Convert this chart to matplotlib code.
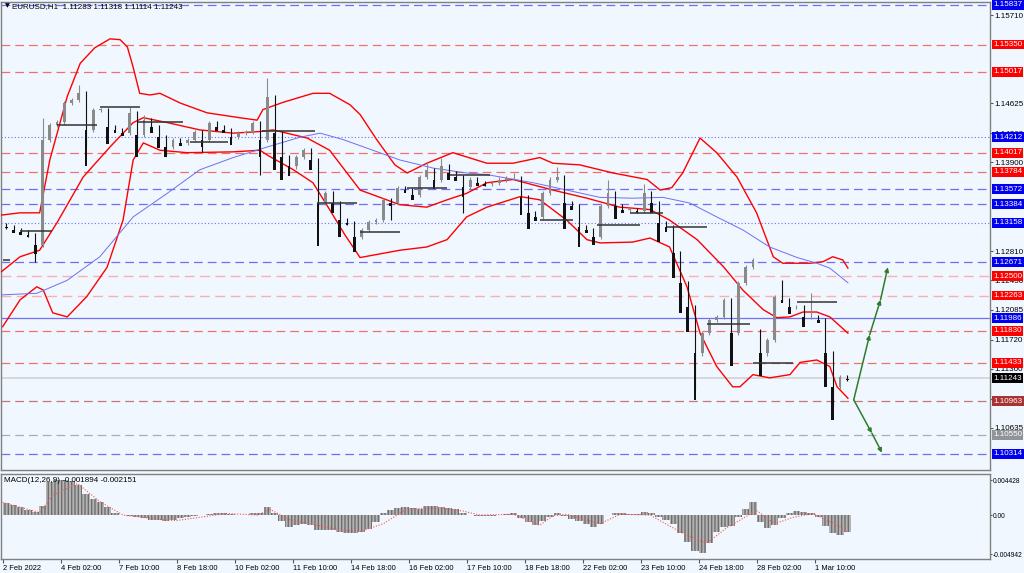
# График EURUSD H1: свечи, полосы Боллинджера, уровни и MACD

import matplotlib.pyplot as plt
from matplotlib.transforms import blended_transform_factory

# Цены закрытия свечей (одна свеча ~ 4 часа)
closes = [1.1311, 1.1307, 1.1304, 1.1301, 1.1289, 1.1418, 1.1436, 1.1440, 1.1463, 1.1467,
          1.1475, 1.1430, 1.1455, 1.1455, 1.1434, 1.1430, 1.1426, 1.1451, 1.1424, 1.1442,
          1.1434, 1.1421, 1.1409, 1.1418, 1.1414, 1.1418, 1.1427, 1.1418, 1.1439, 1.1434,
          1.1430, 1.1421, 1.1426, 1.1427, 1.1439, 1.1418, 1.1471, 1.1426, 1.1397, 1.1385,
          1.1397, 1.1405, 1.1393, 1.1340, 1.1352, 1.1340, 1.1319, 1.1316, 1.1298, 1.1307,
          1.1317, 1.1319, 1.1344, 1.1340, 1.1359, 1.1356, 1.1350, 1.1372, 1.1381, 1.1369,
          1.1385, 1.1377, 1.1372, 1.1360, 1.1369, 1.1365, 1.1363, 1.1365, 1.1369, 1.1371,
          1.1371, 1.1348, 1.1328, 1.1323, 1.1352, 1.1369, 1.1372, 1.1340, 1.1336, 1.1311,
          1.1307, 1.1298, 1.1336, 1.1352, 1.1336, 1.1332, 1.1332, 1.1330, 1.1352, 1.1340,
          1.1316, 1.1310, 1.1279, 1.1242, 1.1212, 1.1155, 1.1180, 1.1196, 1.1200, 1.1221,
          1.1180, 1.1242, 1.1261, 1.1270, 1.1155, 1.1172, 1.1225, 1.1221, 1.1212, 1.1212,
          1.1200, 1.1200, 1.1196, 1.1155, 1.1114, 1.1126, 1.1124]
first_open = 1.1313
gap_opens = {5: 1.1289, 104: 1.1183}

# Длинные тени (индекс свечи: цена)
spike_highs = {5: 1.1445, 10: 1.1485, 17: 1.1458, 19: 1.1448, 36: 1.1494, 58: 1.1390,
               60: 1.1396, 70: 1.1377, 76: 1.1384, 83: 1.1369, 88: 1.1363, 103: 1.1273,
               107: 1.1245, 111: 1.1230}
spike_lows = {4: 1.1268, 11: 1.1412, 22: 1.1399, 27: 1.1403, 35: 1.1375, 39: 1.1375,
              43: 1.1332, 48: 1.1282, 53: 1.1319, 63: 1.1328, 81: 1.1290, 93: 1.1209,
              95: 1.1110, 100: 1.1165, 104: 1.1147, 114: 1.1089}

# Полосы Боллинджера и скользящая средняя: (индекс, цена)
bb_upper = [(-0.9, 1.1325), (1.9, 1.1328), (4.6, 1.1328), (6.0, 1.1393), (8.4, 1.1471),
            (10.2, 1.1512), (12.2, 1.1531), (14.3, 1.1542), (15.7, 1.1541), (16.7, 1.1532),
            (17.5, 1.1507), (18.4, 1.1475), (19.8, 1.1473), (21.2, 1.1475), (24.0, 1.1463),
            (27.7, 1.1451), (32.2, 1.1445), (34.6, 1.1442), (35.4, 1.1455), (38.2, 1.1464),
            (42.3, 1.1475), (44.6, 1.1475), (47.4, 1.1461), (48.8, 1.1449), (51.1, 1.1418),
            (53.6, 1.1387), (55.3, 1.1377), (58.0, 1.1389), (61.6, 1.1402), (66.3, 1.1389),
            (69.9, 1.1389), (73.6, 1.1396), (75.4, 1.1389), (79.1, 1.1387), (83.7, 1.1377),
            (88.4, 1.1369), (90.2, 1.1356), (91.8, 1.1359), (93.3, 1.1377), (95.7, 1.1420),
            (98.0, 1.1402), (100.8, 1.1372), (103.5, 1.1328), (105.8, 1.1274), (107.1, 1.1266),
            (110.9, 1.1266), (112.7, 1.1268), (114.0, 1.1274), (115.4, 1.1270), (116.1, 1.1260)]
bb_middle = [(-0.9, 1.1254), (1.9, 1.1274), (4.6, 1.1282), (7.0, 1.1316), (10.6, 1.1372),
             (14.3, 1.1409), (17.5, 1.1439), (18.9, 1.1445), (22.2, 1.1439), (26.7, 1.1430),
             (31.3, 1.1426), (35.0, 1.1428), (36.8, 1.1430), (41.5, 1.1420), (44.6, 1.1405),
             (48.8, 1.1356), (54.3, 1.1338), (58.0, 1.1335), (60.8, 1.1344), (63.5, 1.1352),
             (66.3, 1.1365), (69.9, 1.1369), (75.4, 1.1356), (80.1, 1.1346), (84.6, 1.1335),
             (88.8, 1.1332), (91.5, 1.1319), (95.3, 1.1295), (98.9, 1.1262), (101.6, 1.1233),
             (104.4, 1.1209), (106.3, 1.1199), (108.1, 1.1200), (109.9, 1.1206), (111.8, 1.1206),
             (113.6, 1.1200), (116.1, 1.1180)]
bb_lower = [(-0.5, 1.1188), (1.9, 1.1221), (4.2, 1.1237), (5.1, 1.1233), (6.4, 1.1205),
            (8.4, 1.1200), (11.1, 1.1225), (13.9, 1.1261), (16.1, 1.1319), (17.5, 1.1393),
            (18.9, 1.1414), (21.2, 1.1405), (24.9, 1.1402), (31.3, 1.1403), (35.0, 1.1405),
            (36.0, 1.1399), (39.6, 1.1381), (42.3, 1.1365), (44.6, 1.1332), (46.7, 1.1301),
            (48.8, 1.1273), (54.3, 1.1282), (58.0, 1.1286), (60.8, 1.1295), (63.5, 1.1323),
            (66.3, 1.1335), (70.9, 1.1348), (73.6, 1.1344), (77.3, 1.1319), (80.1, 1.1295),
            (81.9, 1.1291), (86.4, 1.1292), (88.8, 1.1297), (91.5, 1.1286), (93.9, 1.1237),
            (95.7, 1.1180), (98.0, 1.1139), (100.2, 1.1114), (101.2, 1.1114), (103.0, 1.1129),
            (105.3, 1.1125), (108.1, 1.1129), (109.5, 1.1144), (111.8, 1.1147), (113.6, 1.1139),
            (114.6, 1.1114), (116.1, 1.1100)]
ma_blue = [(-0.9, 1.1227), (4.2, 1.1229), (8.4, 1.1245), (12.9, 1.1274), (17.5, 1.1323),
           (22.2, 1.1352), (26.7, 1.1381), (31.3, 1.1396), (36.0, 1.1409), (40.5, 1.1421),
           (43.3, 1.1426), (46.5, 1.1418), (54.3, 1.1393), (58.9, 1.1383), (63.5, 1.1377),
           (66.3, 1.1375), (72.7, 1.1365), (77.3, 1.1356), (81.9, 1.1347), (86.4, 1.1346),
           (90.6, 1.1347), (94.3, 1.1340), (98.0, 1.1323), (101.6, 1.1307), (105.3, 1.1286),
           (109.1, 1.1273), (111.8, 1.1266), (113.6, 1.1260), (116.1, 1.1242)]

# MACD: гистограмма по свечам и сигнальная линия
macd_hist = [0.0015, 0.0013, 0.0010, 0.0007, 0.0004, 0.0012, 0.0042, 0.0044, 0.0044, 0.0043,
             0.0038, 0.0026, 0.0020, 0.0017, 0.0010, 0.0003, 0.0000, -0.0001, -0.0002, -0.0004,
             -0.0006, -0.0006, -0.0008, -0.0006, -0.0004, -0.0003, -0.0001, 0.0000, 0.0001, 0.0003,
             0.0003, 0.0001, 0.0000, 0.0000, 0.0002, 0.0003, 0.0010, 0.0002, -0.0007, -0.0015,
             -0.0013, -0.0011, -0.0012, -0.0019, -0.0019, -0.0019, -0.0021, -0.0023, -0.0023, -0.0022,
             -0.0018, -0.0009, 0.0002, 0.0007, 0.0009, 0.0010, 0.0009, 0.0008, 0.0011, 0.0012,
             0.0010, 0.0009, 0.0008, 0.0002, 0.0000, -0.0001, -0.0001, -0.0001, 0.0000, 0.0001,
             0.0002, -0.0004, -0.0009, -0.0012, -0.0008, -0.0002, 0.0002, -0.0001, -0.0005, -0.0008,
             -0.0011, -0.0015, -0.0011, 0.0000, 0.0002, 0.0002, 0.0001, 0.0001, 0.0004, 0.0002,
             -0.0003, -0.0006, -0.0011, -0.0023, -0.0034, -0.0046, -0.0048, -0.0036, -0.0021, -0.0015,
             -0.0014, -0.0003, 0.0008, 0.0016, -0.0009, -0.0017, -0.0012, -0.0004, 0.0002, 0.0005,
             0.0004, 0.0002, -0.0002, -0.0014, -0.0023, -0.0025, -0.0022]
macd_signal = [(-0.9, 0.0017), (4.6, 0.0003), (6.4, 0.0025), (9.8, 0.0040), (12.9, 0.0017),
               (16.1, 0.0000), (21.6, -0.0006), (23.5, -0.0007), (30.4, 0.0002), (34.6, 0.0000),
               (36.4, 0.0007), (39.1, -0.0006), (42.9, -0.0013), (46.0, -0.0019), (48.8, -0.0021),
               (52.0, -0.0011), (55.3, 0.0008), (59.8, 0.0009), (63.0, 0.0005), (65.3, 0.0000),
               (69.9, 0.0001), (73.6, -0.0013), (75.4, -0.0001), (77.3, 0.0001), (81.9, -0.0011),
               (84.7, 0.0001), (88.8, 0.0000), (92.9, -0.0021), (96.6, -0.0036), (99.4, -0.0016),
               (102.6, 0.0001), (103.6, 0.0005), (106.0, -0.0011), (108.5, -0.0003), (111.3, 0.0002),
               (115.0, -0.0015), (116.1, -0.0022)]

# Горизонтальные уровни и их тип
level_prices = [1.15837, 1.15350, 1.15017, 1.14212, 1.14017, 1.13784, 1.13572, 1.13384,
                1.13158, 1.12671, 1.12500, 1.12263, 1.11986, 1.11830, 1.11433, 1.11243,
                1.10963, 1.10550, 1.10314]
level_kinds = ['blue', 'red', 'red', 'bdot', 'red', 'red', 'blue', 'blue',
               'bdot', 'blue', 'pink', 'pink', 'bsolid', 'red', 'red', 'cur',
               'brown', 'gray', 'blue']
# видимые подписи шкалы цен (остальные закрыты метками уровней)
axis_ticks = [1.15710, 1.14625, 1.14260, 1.13900, 1.12810, 1.12450, 1.12085,
              1.11720, 1.11360, 1.10995, 1.10635]

# Короткие отрезки (от, до, цена)
segments = [(-0.4, 0.5, 1.1270), (1.9, 6.3, 1.1306), (7.0, 12.5, 1.1436), (12.9, 18.4, 1.1458),
            (18.2, 24.4, 1.1440), (25.3, 30.6, 1.1415), (35.3, 42.6, 1.1429), (42.9, 48.4, 1.1340),
            (48.8, 54.3, 1.1305), (55.3, 60.8, 1.1359), (61.2, 66.7, 1.1375), (73.6, 78.2, 1.1319),
            (81.5, 87.4, 1.1313), (86.0, 90.6, 1.1328), (91.1, 96.6, 1.1311), (96.6, 102.6, 1.1191),
            (103.0, 108.5, 1.1143), (109.1, 114.6, 1.1218)]

# Стрелки прогноза
arrow_up = [(116.9, 1.1098), (119.1, 1.1178), (120.6, 1.1221), (121.6, 1.1261)]
arrow_down = [(116.9, 1.1098), (119.4, 1.1057), (120.8, 1.1033)]

# Подписи оси времени
date_labels = ['2 Feb 2022', '4 Feb 02:00', '7 Feb 10:00', '8 Feb 18:00', '10 Feb 02:00',
               '11 Feb 10:00', '14 Feb 18:00', '16 Feb 02:00', '17 Feb 10:00', '18 Feb 18:00',
               '22 Feb 02:00', '23 Feb 10:00', '24 Feb 18:00', '28 Feb 02:00', '1 Mar 10:00']

BG = '#f0f7fe'
plt.rcParams['font.family'] = ['Liberation Sans', 'DejaVu Sans']

fig = plt.figure(figsize=(10.24, 5.73), dpi=100, facecolor=BG)
ax = fig.add_axes([0.001, 0.1798, 0.9658, 0.8168], facecolor=BG)
axm = fig.add_axes([0.001, 0.0244, 0.9658, 0.1483], facecolor=BG, sharex=ax)

# Уровни
styles = {
    'blue': ('#6f6ff6', (0, (7, 4)), 0.9, '#0000f0'),
    'red': ('#f07070', (0, (7, 4)), 0.9, '#ff0000'),
    'pink': ('#f8b0b0', (0, (7, 4)), 1.0, '#ff0000'),
    'bdot': ('#6f6ff6', (0, (1, 2)), 0.8, '#0000f0'),
    'bsolid': ('#6f6ff6', '-', 0.9, '#0000f0'),
    'cur': ('#d4d8dc', '-', 1.4, '#000000'),
    'brown': ('#c07878', (0, (7, 4)), 0.9, '#a83232'),
    'gray': ('#a8aeb4', (0, (7, 4)), 0.9, '#8e9499'),
}
tr = blended_transform_factory(ax.transAxes, ax.transData)
for p, kind in zip(level_prices, level_kinds):
    col, ls, lw, box = styles[kind]
    ax.axhline(p, color=col, linestyle=ls, lw=lw, zorder=1)
    ax.text(1.003, p, f'{p:.5f}', transform=tr, ha='left', va='center', fontsize=5.8,
            color='white', zorder=10, clip_on=False,
            bbox=dict(boxstyle='square,pad=0.18', fc=box, ec='none'))

# Индикаторы
for line, col, lw in [(bb_upper, '#ff0000', 1.0), (bb_middle, '#ff0000', 1.0),
                      (bb_lower, '#ff0000', 1.0), (ma_blue, '#6f6ff0', 0.7)]:
    ax.plot([q[0] for q in line], [q[1] for q in line], color=col, lw=lw, zorder=3)

# Свечи
for i, c in enumerate(closes):
    o = gap_opens.get(i, closes[i - 1] if i > 0 else first_open)
    hi = spike_highs.get(i, max(o, c) + 0.00025)
    lo = spike_lows.get(i, min(o, c) - 0.00025)
    col = '#8a8a8a' if c >= o else '#111111'
    ax.vlines(i, lo, hi, color=col, lw=0.8, zorder=4)
    body = c - o if abs(c - o) > 0.00006 else 0.00006
    ax.bar(i, body, bottom=min(o, c) if abs(c - o) > 0.00006 else o - 0.00003,
           width=0.38, color=col, zorder=4)

for x0, x1, p in segments:
    ax.hlines(p, x0, x1, color='#333333', lw=1.1, zorder=5)

# Стрелки
for pts, col in [(arrow_up, '#2f7d2a'), (arrow_down, '#2f7d2a')]:
    for a, b in zip(pts[:-1], pts[1:]):
        ax.annotate('', xy=b, xytext=a, zorder=6,
                    arrowprops=dict(arrowstyle='-|>', color=col, lw=1.1,
                                    mutation_scale=6, shrinkA=0, shrinkB=0))

ax.set_xlim(-0.73, 135.7)
ax.set_ylim(1.10117, 1.15874)
ax.yaxis.tick_right()
ax.set_yticks(axis_ticks)
ax.set_yticklabels([f'{t:.5f}' for t in axis_ticks])
ax.tick_params(axis='y', length=2, pad=1, labelsize=5.8, color='#555555')
ax.tick_params(axis='x', bottom=False, labelbottom=False)

ax.text(0.004, 0.991, '\u25bc', transform=ax.transAxes, fontsize=4.5, va='center',
        family=['DejaVu Sans'])
ax.text(0.011, 0.991, 'EURUSD,H1  1.11283 1.11318 1.11114 1.11243', transform=ax.transAxes,
        fontsize=5.8, va='center')

# MACD
axm.bar(range(len(macd_hist)), macd_hist, width=1.0, color='#b4b4b4', hatch='|||||',
        edgecolor='#6e6e6e', linewidth=0, zorder=2)
axm.plot([q[0] for q in macd_signal], [q[1] for q in macd_signal], color='#ff5050',
         lw=0.8, linestyle=(0, (1, 1.5)), zorder=3)
axm.set_ylim(-0.00557, 0.00519)
axm.yaxis.tick_right()
axm.set_yticks([0.004428, 0.0, -0.004942])
axm.set_yticklabels(['0.004428', '0.00', '-0.004942'])
axm.tick_params(axis='y', length=1.5, pad=0.5, labelsize=4.8, color='#555555')
axm.text(0.003, 0.92, 'MACD(12,26,9) -0.001894 -0.002151', transform=axm.transAxes,
         fontsize=5.8, va='center')

axm.set_xticks([8 * k - 0.5 for k in range(len(date_labels))])
axm.set_xticklabels(date_labels)
axm.tick_params(axis='x', length=3, pad=1.5, labelsize=5.4, color='#555555')
for lab in axm.get_xticklabels():
    lab.set_horizontalalignment('left')

for a in (ax, axm):
    for s in a.spines.values():
        s.set_color('#808080')
        s.set_linewidth(1.0)

fig.savefig('out.png', dpi=100, facecolor=BG)
